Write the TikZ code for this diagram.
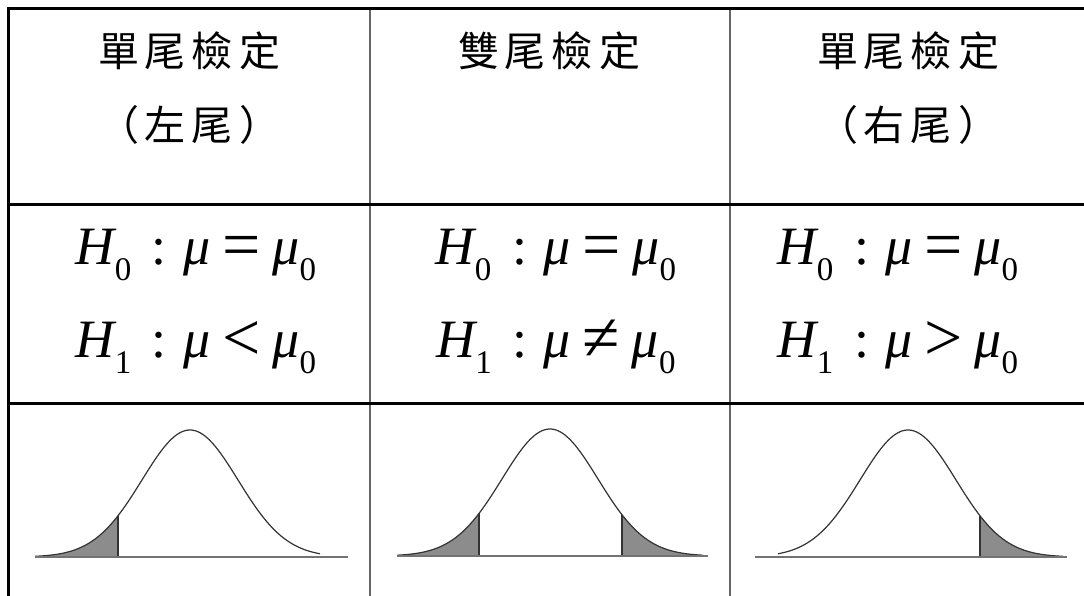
\documentclass[tikz,border=0pt]{standalone}
\usepackage{fontspec}
\newfontfamily\cjk{Noto Sans CJK TC}
\newfontfamily\tm{Liberation Serif}
\tikzset{
  frame/.style={line width=3pt, black},
  innerline/.style={line width=1.5pt, black!60},
  head/.style={inner sep=0pt, font=\cjk\fontsize{41}{48}\selectfont},
  hyp/.style={inner sep=0pt, anchor=base, font=\tm\fontsize{54}{60}\selectfont},
  bell/.style={line width=1.2pt, black!80},
  axisline/.style={line width=1.6pt, black!55},
  tailfill/.style={fill=black!45},
}
\newcommand\hsub[1]{\raisebox{-0.3em}{\fontsize{33}{33}\selectfont\upshape #1}}
\newcommand\hop[1]{\raisebox{-3pt}{\fontsize{68}{68}\selectfont #1}}
\newcommand\hyptext[2]{{\itshape H}\hsub{#1}\hspace{0.38em}:\hspace{0.3em}{\itshape μ}\hspace{0.22em}\hop{#2}\hspace{0.22em}{\itshape μ}\hsub{0}}
\newcommand\cs{\hspace{6pt}}
\begin{document}
\begin{tikzpicture}[x=1pt,y=-1pt]
\useasboundingbox (0,0) rectangle (1084,596);
\fill[white] (0,0) rectangle (1084,596);
% table lines
\draw[innerline] (370,9) -- (370,596);
\draw[innerline] (730,9) -- (730,596);
\draw[frame] (8,596) -- (8,9) -- (1084,9);
\draw[frame] (8,205) -- (1084,205);
\draw[frame] (8,403) -- (1084,403);
% headers
\node[head] (t1a) at (189,51) {單\cs 尾\cs 檢\cs 定};
\node[head] (t1b) at (189,125) {（\cs 左\cs 尾\cs ）};
\node[head] (t2a) at (549,51) {雙\cs 尾\cs 檢\cs 定};
\node[head] (t3a) at (908,51) {單\cs 尾\cs 檢\cs 定};
\node[head] (t3b) at (908,125) {（\cs 右\cs 尾\cs ）};
% hypotheses
\node[hyp] (h1a) at (196,264) {\hyptext{0}{=}};
\node[hyp] (h1b) at (196,357) {\hyptext{1}{<}};
\node[hyp] (h2a) at (556,264) {\hyptext{0}{=}};
\node[hyp] (h2b) at (556,357) {\hyptext{1}{≠}};
\node[hyp] (h3a) at (898,264) {\hyptext{0}{=}};
\node[hyp] (h3b) at (898,357) {\hyptext{1}{>}};
% curve 1 (left tail)
\begin{scope}[shift={(190,557)}, yscale=-1]
  \fill[tailfill] (-155,0) -- plot[domain=-155:-72,samples=40] (\x,{127*exp(-((\x/48)^2)/2)}) -- (-72,0) -- cycle;
  \draw[bell] plot[domain=-155:130,samples=120,smooth] (\x,{127*exp(-((\x/48)^2)/2)});
  \draw[bell] (-72,0) -- (-72,{127*exp(-((72/48)^2)/2)});
  \draw[axisline] (-155,0) -- (158,0);
\end{scope}
% curve 2 (two tails)
\begin{scope}[shift={(550,556)}, yscale=-1]
  \fill[tailfill] (-153,0) -- plot[domain=-153:-71,samples=40] (\x,{127*exp(-((\x/48)^2)/2)}) -- (-71,0) -- cycle;
  \fill[tailfill] (72,0) -- plot[domain=72:153,samples=40] (\x,{127*exp(-((\x/48)^2)/2)}) -- (153,0) -- cycle;
  \draw[bell] plot[domain=-153:153,samples=120,smooth] (\x,{127*exp(-((\x/48)^2)/2)});
  \draw[bell] (-71,0) -- (-71,{127*exp(-((71/48)^2)/2)});
  \draw[bell] (72,0) -- (72,{127*exp(-((72/48)^2)/2)});
  \draw[axisline] (-153,0) -- (158,0);
\end{scope}
% curve 3 (right tail)
\begin{scope}[shift={(908,557)}, yscale=-1]
  \fill[tailfill] (72,0) -- plot[domain=72:155,samples=40] (\x,{127*exp(-((\x/48)^2)/2)}) -- (155,0) -- cycle;
  \draw[bell] plot[domain=-130:155,samples=120,smooth] (\x,{127*exp(-((\x/48)^2)/2)});
  \draw[bell] (72,0) -- (72,{127*exp(-((72/48)^2)/2)});
  \draw[axisline] (-153,0) -- (159,0);
\end{scope}
\end{tikzpicture}
\end{document}
